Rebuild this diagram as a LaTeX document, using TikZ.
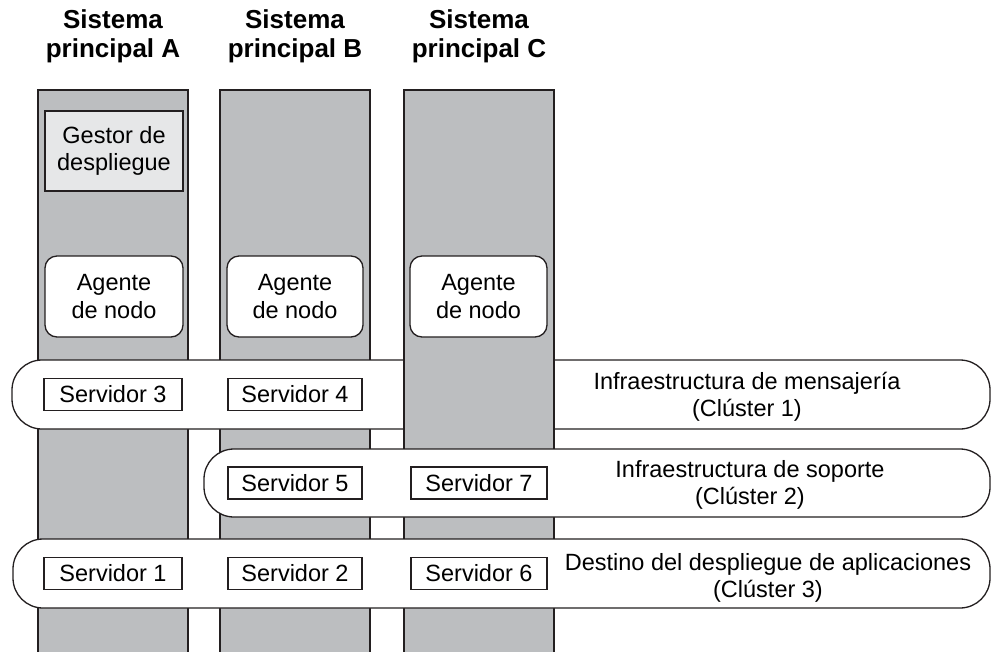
\documentclass[tikz,border=0pt]{standalone}
\usepackage{fontspec}
\setmainfont{Liberation Sans}
\usepackage{tikz}
\usetikzlibrary{positioning}

\definecolor{hostgray}{HTML}{BCBEC0}
\definecolor{boxgray}{HTML}{E6E7E8}
\definecolor{ink}{HTML}{231F20}

\begin{document}
\begin{tikzpicture}[
  x=1pt, y=-1pt,
  host/.style={rectangle, draw=ink, fill=hostgray, line width=1.3pt, minimum width=150pt, minimum height=570pt, inner sep=0pt},
  head/.style={align=center, inner sep=0pt, font=\fontsize{26}{29.5}\selectfont\bfseries},
  manager/.style={rectangle, draw=ink, fill=boxgray, line width=1.3pt, minimum width=138pt, minimum height=80pt, align=center, inner sep=0pt, font=\fontsize{23.5}{27.5}\selectfont},
  agent/.style={manager, fill=white, rounded corners=12pt, minimum height=81pt},
  cluster/.style={rectangle, draw=ink, fill=white, line width=1.3pt, rounded corners=30pt, minimum height=69pt, inner sep=0pt},
  server/.style={rectangle, draw=ink, fill=white, line width=1.3pt, minimum height=32pt, inner sep=0pt, font=\fontsize{23.5}{27.5}\selectfont},
  tag/.style={align=center, inner sep=0pt, font=\fontsize{23.5}{27.5}\selectfont},
]
\useasboundingbox (0,0) rectangle (992,651);

% Host columns A and B
\node[host] (colA) at (113,375) {};
\node[host] (colB) at (295,375) {};

\node[head, above=26pt of colA] (hdA) {Sistema\\principal A};
\node[head, above=26pt of colB] (hdB) {Sistema\\principal B};

% Cluster 1 runs behind column C
\node[cluster, minimum width=978pt] (cl1) at (501,394.5) {};
\node[tag] (tg1) at (747,397) {Infraestructura de mensajería\\(Clúster 1)};

% Host column C
\node[host] (colC) at (479,375) {};
\node[head, above=26pt of colC] (hdC) {Sistema\\principal C};

% Manager and agents
\node[manager] (mgr) at (114,151) {Gestor de\\despliegue};
\node[agent] (agA) at (114,296.5) {Agente\\de nodo};
\node[agent, minimum width=136pt] (agB) at (295,296.5) {Agente\\de nodo};
\node[agent, minimum width=137pt] (agC) at (478.5,296.5) {Agente\\de nodo};

% Clusters 2 and 3
\node[cluster, minimum width=786pt, minimum height=68pt] (cl2) at (597,483) {};
\node[tag] (tg2) at (750,485) {Infraestructura de soporte\\(Clúster 2)};
\node[cluster, minimum width=977pt] (cl3) at (501.5,573.5) {};
\node[tag] (tg3) at (768,578) {Destino del despliegue de aplicaciones\\(Clúster 3)};

% Servers
\node[server, minimum width=138pt] (s3) at (colA |- cl1) {Servidor 3};
\node[server, minimum width=134pt] (s4) at (colB |- cl1) {Servidor 4};
\node[server, minimum width=134pt] (s5) at (colB |- cl2) {Servidor 5};
\node[server, minimum width=136pt] (s7) at (colC |- cl2) {Servidor 7};
\node[server, minimum width=138pt] (s1) at (colA |- cl3) {Servidor 1};
\node[server, minimum width=134pt] (s2) at (colB |- cl3) {Servidor 2};
\node[server, minimum width=136pt] (s6) at (colC |- cl3) {Servidor 6};

\end{tikzpicture}
\end{document}
